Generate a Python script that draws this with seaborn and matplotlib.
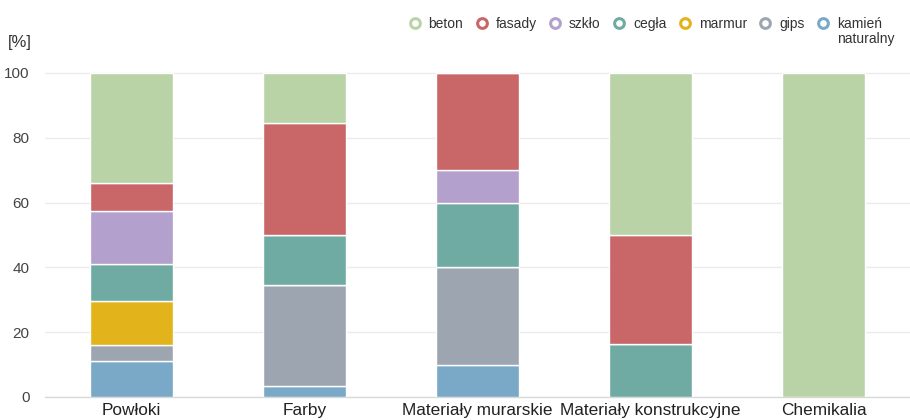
import numpy as np
import matplotlib
matplotlib.use("Agg")
import matplotlib.pyplot as plt
from matplotlib.lines import Line2D
import seaborn as sns

# ---- data ----
categories = ["Powłoki", "Farby", "Materiały murarskie", "Materiały konstrukcyjne", "Chemikalia"]
kamien = [11, 3.5, 10, 0, 0]
gips = [5, 31, 30, 0, 0]
marmur = [13.5, 0, 0, 0, 0]
cegla = [11.5, 15.5, 20, 16.5, 0]
szklo = [16.5, 0, 10, 0, 0]
fasady = [8.5, 34.5, 30, 33.5, 0]
beton = [34, 15.5, 0, 50, 100]
y_ticks = [0, 20, 40, 60, 80, 100]
y_unit = "[%]"

series_names = ["beton", "fasady", "szkło", "cegła", "marmur", "gips", "kamień naturalny"]
series_values = [beton, fasady, szklo, cegla, marmur, gips, kamien]
series_colors = ["#b9d3a6", "#c96667", "#b3a0cc", "#6faba3", "#e2b31a", "#9da6b0", "#79a9c6"]

sns.set_theme(style="white")
plt.rcParams["font.family"] = ["Liberation Sans", "DejaVu Sans"]

fig = plt.figure(figsize=(9.1, 4.2), dpi=100)
W, H = 910, 420
ymax = 100.5
ax = fig.add_axes([45 / W, 23 / H, 865 / W, 324 * ymax / 100 / H])

bottom = np.zeros(len(categories))
# stack from bottom (kamień) to top (beton)
for name, vals, col in list(zip(series_names, series_values, series_colors))[::-1]:
    sns.barplot(x=categories, y=vals, order=categories, color=col, saturation=1,
                width=0.477, bottom=bottom, edgecolor="white", linewidth=1,
                errorbar=None, ax=ax, zorder=3)
    bottom = bottom + np.array(vals, dtype=float)

ax.set_xlim(-0.5, 4.465)
ax.set_ylim(0, ymax)
ax.set_yticks(y_ticks)
ax.set_yticklabels([str(t) for t in y_ticks])
ax.yaxis.grid(True, color="#ebebeb", linewidth=1, zorder=0)
ax.xaxis.grid(False)
ax.set_axisbelow(True)
for s in ["top", "right", "left"]:
    ax.spines[s].set_visible(False)
ax.spines["bottom"].set_color("#d9d9d9")
ax.spines["bottom"].set_linewidth(1)
ax.set_xlabel("")
ax.set_ylabel("")

ax.tick_params(axis="y", length=0, pad=11, labelsize=11, labelcolor="#444444")
ax.tick_params(axis="x", length=0, pad=4, labelsize=12.4, labelcolor="#222222")
ax.set_xticks(np.arange(-0.5, 5, 1), minor=True)
ax.tick_params(axis="x", which="minor", length=5, color="#d9d9d9", width=1)

fig.text(8 / W, 1 - 42 / H, y_unit, fontsize=12, color="#333333", va="center", ha="left")

# legend: ring markers, last label wraps onto a second line below
first_words = [n.split(" ")[0] for n in series_names]
handles = [Line2D([], [], marker="o", linestyle="", markerfacecolor="white",
                  markeredgecolor=c, markeredgewidth=2.2, markersize=7)
           for c in series_colors]
leg = fig.legend(handles, first_words, loc="center left", bbox_to_anchor=(402 / W, 1 - 24 / H),
                 ncol=7, frameon=False, borderpad=0, handlelength=0.8, handletextpad=0.6,
                 columnspacing=0.93, labelcolor="#333333", fontsize=10)
fig.canvas.draw()
last = leg.get_texts()[-1]
bb = last.get_window_extent(renderer=fig.canvas.get_renderer())
rest = series_names[-1].split(" ", 1)[1]
fig.text(bb.x0 / W, (bb.y0 + bb.y1) / 2 / H - 15 / H, rest, fontsize=10,
         color="#333333", ha="left", va="center")

fig.savefig("out.png", dpi=100)
